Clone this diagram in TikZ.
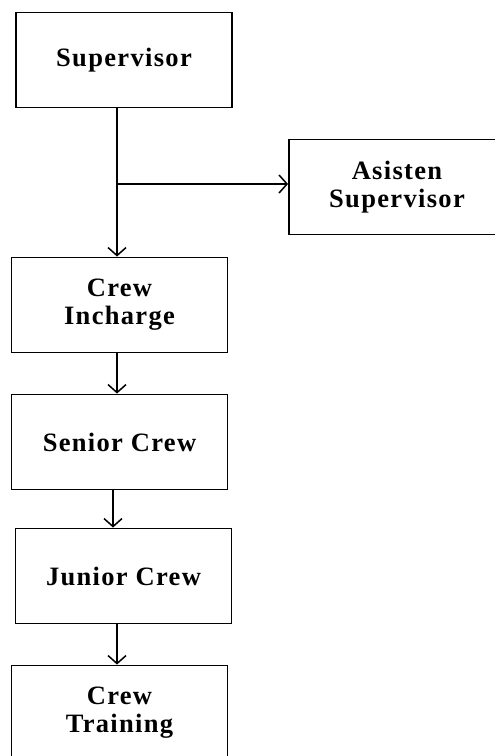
\documentclass[tikz,border=0pt]{standalone}
\usepackage{fontspec}
\setmainfont{Liberation Serif}[LetterSpace=5]
\usetikzlibrary{arrows.meta}

\begin{document}
\begin{tikzpicture}[x=1pt,y=-1pt,line width=1.9pt,
  orgbox/.style={draw,rectangle,minimum width=216pt,minimum height=95pt,inner sep=0pt,
    align=center,font=\fontsize{26.5}{28}\selectfont\bfseries},
  arr/.style={-{Straight Barb[length=8pt,width=18pt,line width=1.5pt]}}]
\useasboundingbox (0,0) rectangle (495,756);
\clip (0,0) rectangle (495,756);

%boxes
\node[orgbox] (sup) at (124,60) {Supervisor};
\node[orgbox] (asis) at (397,187) {Asisten\\Supervisor};
\node[orgbox] (inch) at (119.5,305) {Crew\\Incharge};
\node[orgbox] (sen) at (119.5,442) {Senior Crew};
\node[orgbox] (jun) at (123.5,576) {Junior Crew};
\node[orgbox] (tra) at (119.5,713) {Crew\\Training};

%branch to the assistant
\coordinate (br) at ([xshift=-7pt]sup.south |- 0,184);
\draw[arr] ([xshift=-7pt]sup.south) -- ([xshift=-7pt]sup.south |- inch.north);
\draw[arr] (br) -- (br -| asis.west);

%arrows down the chain
\draw[arr] ([xshift=-2.5pt]inch.south) -- ([xshift=-2.5pt]sen.north);
\draw[arr] ([xshift=-6.5pt]sen.south) -- ([xshift=-6.5pt]sen.south |- jun.north);
\draw[arr] ([xshift=-6.5pt]jun.south) -- ([xshift=-6.5pt]jun.south |- tra.north);
\end{tikzpicture}
\end{document}
